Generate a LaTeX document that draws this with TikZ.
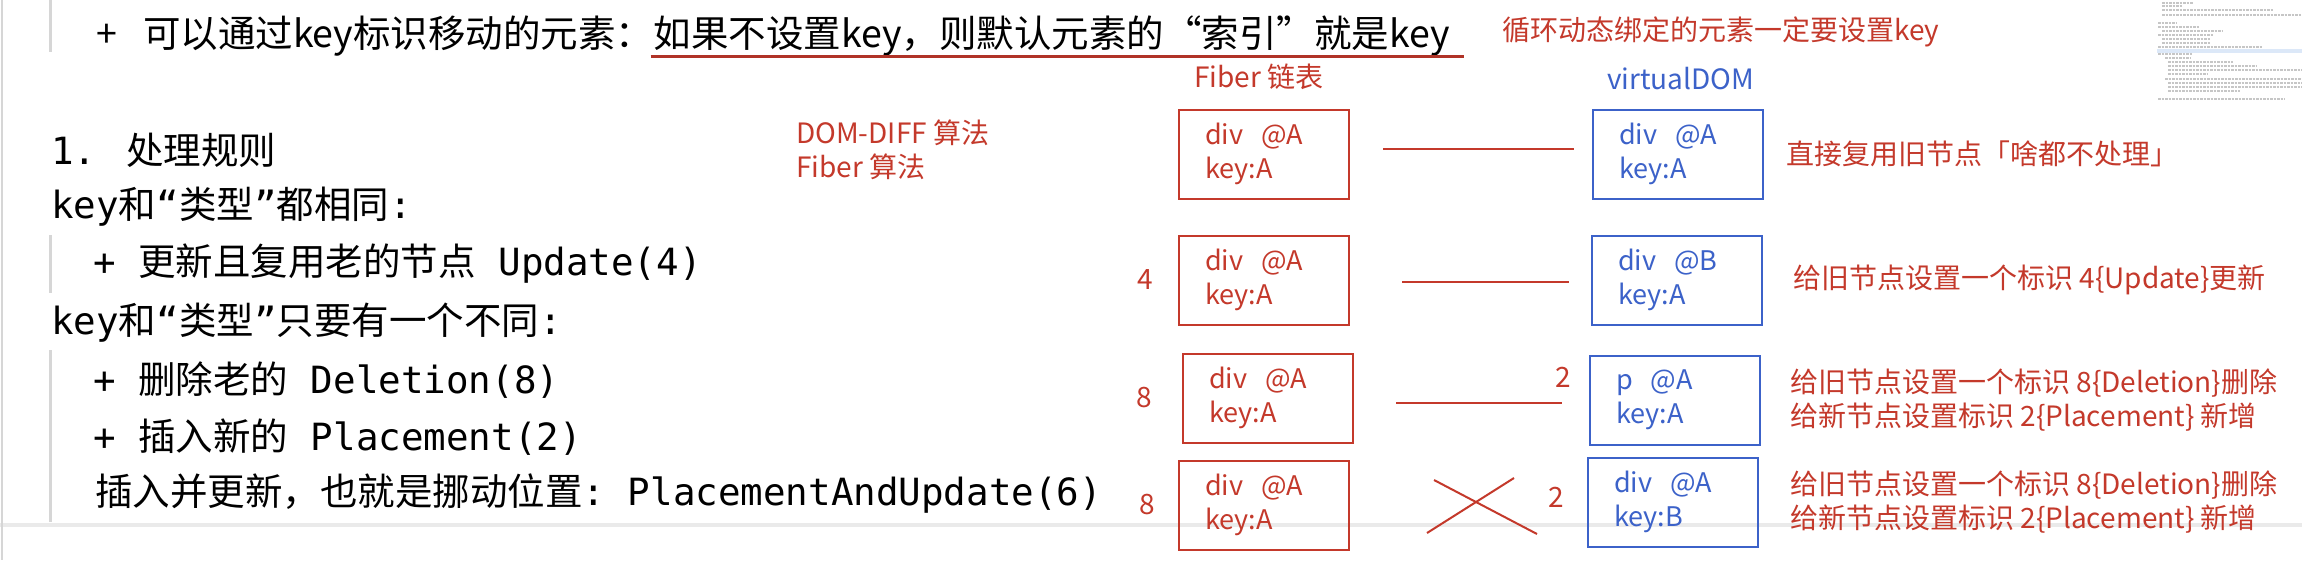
\documentclass[tikz,border=0pt]{standalone}
\usepackage{fontspec}
\setmainfont{Noto Sans CJK SC}
\newfontfamily\codefont{DejaVu Sans Mono}
\usetikzlibrary{positioning,calc}
\definecolor{notered}{HTML}{C4392B}
\definecolor{noteblue}{HTML}{3C62C9}
\definecolor{quotebar}{HTML}{D6D6D6}
\definecolor{sepline}{HTML}{EAEAEA}
\definecolor{minihl}{HTML}{DCE8F8}
\tikzset{
  mdline/.style={anchor=west, inner sep=0pt, font=\fontsize{37.5}{46}\selectfont},
  redlabel/.style={anchor=west, inner sep=0pt, text=notered, align=left, font=\fontsize{28}{34}\selectfont},
  bluelabel/.style={redlabel, text=noteblue},
  fiberbox/.style={draw=notered, text=notered, line width=2pt, inner xsep=26pt, inner ysep=0pt,
    text width=118pt, minimum height=89pt, align=left, font=\fontsize{27}{34}\selectfont},
  vdombox/.style={fiberbox, draw=noteblue, text=noteblue},
  link/.style={draw=notered, line width=2pt},
  mdbar/.style={quotebar, line width=3pt},
  minitext/.style={gray!45, line width=1.6pt, dash pattern=on 2.5pt off 1pt}
}
\begin{document}
\begin{tikzpicture}[x=1pt, y=-1pt]
  \fill[white] (0,0) rectangle (2302,560);
  \useasboundingbox (0,0) rectangle (2302,560);

  % page frame and quote bars
  \draw[sepline, line width=4pt] (0,525) -- (2302,525);
  \draw[quotebar, line width=2pt] (2,0) -- (2,560);
  \draw[mdbar] (50,0) -- (50,52);
  \draw[mdbar] (50,235) -- (50,293);
  \draw[mdbar] (50,350) -- (50,522);

  % markdown notes
  \node[mdline] (tip) at (96,36) {+\hspace{26pt}可以通过key标识移动的元素：};
  \node[mdline, anchor=base west] (tipkey) at (tip.base east) {如果不设置key，则默认元素的“索引”就是key};
  \draw[notered!90!black, line width=2.5pt] ($(tipkey.south west)+(-3,0)$) -- ($(tipkey.south east)+(14,0)$);

  \node[mdline] (rule) at (51,150) {{\codefont 1. }处理规则};
  \node[mdline] (same) at (51,207) {{\codefont key}和{\codefont “}类型{\codefont ”}都相同{\codefont :}};
  \node[mdline] (upd) at (93,264) {{\codefont + }更新且复用老的节点{\codefont\ Update(4)}};
  \node[mdline] (diff) at (51,323) {{\codefont key}和{\codefont “}类型{\codefont ”}只要有一个不同{\codefont :}};
  \node[mdline] (del) at (93,380) {{\codefont + }删除老的{\codefont\ Deletion(8)}};
  \node[mdline] (ins) at (93,437) {{\codefont + }插入新的{\codefont\ Placement(2)}};
  \node[mdline] (mov) at (95,494) {插入并更新，也就是挪动位置{\codefont :\ PlacementAndUpdate(6)}};

  % titles
  \node[redlabel] (must) at (1502,32) {循环动态绑定的元素一定要设置key};
  \node[redlabel] (algo) at (796,150) {DOM-DIFF 算法\\Fiber 算法};
  \node[redlabel] (fibertitle) at (1194,77) {Fiber 链表};
  \node[bluelabel] (vdomtitle) at (1607,79) {virtualDOM};

  % fiber list vs virtual dom
  \node[fiberbox] (f1) at (1264,154) {div~~@A\\key:A};
  \node[vdombox] (v1) at (1678,154) {div~~@A\\key:A};
  \node[fiberbox] (f2) at (1264,280) {div~~@A\\key:A};
  \node[vdombox] (v2) at (1677,280) {div~~@B\\key:A};
  \node[fiberbox] (f3) at (1268,398) {div~~@A\\key:A};
  \node[vdombox] (v3) at (1675,400) {p~~@A\\key:A};
  \node[fiberbox] (f4) at (1264,505) {div~~@A\\key:A};
  \node[vdombox] (v4) at (1673,502) {div~~@A\\key:B};

  % flags
  \node[redlabel, anchor=east, left=25pt of f2] (flag4) {4};
  \node[redlabel, anchor=east, left=30pt of f3] (flag8a) {8};
  \node[redlabel, anchor=east, left=23pt of f4] (flag8b) {8};
  \node[redlabel] (flag2a) at (1555,377) {2};
  \node[redlabel] (flag2b) at (1548,497) {2};

  \draw[link, shorten <=33pt, shorten >=18pt] ([yshift=5pt]f1.east) -- ([yshift=5pt]f1.east -| v1.west);
  \draw[link, shorten <=52pt, shorten >=22pt] ([yshift=-2pt]f2.east) -- ([yshift=-2pt]f2.east -| v2.west);
  \draw[link, shorten <=42pt, shorten >=27pt] ([yshift=-5pt]f3.east) -- ([yshift=-5pt]f3.east -| v3.west);
  \coordinate (cross) at (1481,506);
  \draw[link] (cross) ++(-47,-26) -- ++(103,54) (cross) ++(33,-28) -- ++(-87,55);

  % what happens
  \node[redlabel, right=22pt of v1] (d1) {直接复用旧节点「啥都不处理」};
  \node[redlabel, right=30pt of v2] (d2) {给旧节点设置一个标识 4\{Update\}更新};
  \node[redlabel, right=29pt of v3] (d3) {给旧节点设置一个标识 8\{Deletion\}删除\\给新节点设置标识 2\{Placement\} 新增};
  \node[redlabel, right=31pt of v4] (d4) {给旧节点设置一个标识 8\{Deletion\}删除\\给新节点设置标识 2\{Placement\} 新增};

  % minimap
  \fill[minihl] (2157,49) rectangle (2302,53);
  \foreach \yy/\xa/\xb in {3/2162/2193, 6/2162/2183, 10/2162/2273, 15/2162/2302,
      23/2158/2177, 27/2158/2200, 31/2162/2223, 35/2158/2213, 39/2162/2210,
      43/2162/2210, 47/2158/2262, 54/2158/2193, 58/2165/2190, 62/2168/2233,
      66/2168/2257, 70/2168/2302, 74/2168/2207, 79/2165/2302, 83/2168/2302,
      87/2168/2302, 91/2168/2240, 99/2158/2285}
    \draw[minitext] (\xa,\yy) -- (\xb,\yy);
\end{tikzpicture}
\end{document}
